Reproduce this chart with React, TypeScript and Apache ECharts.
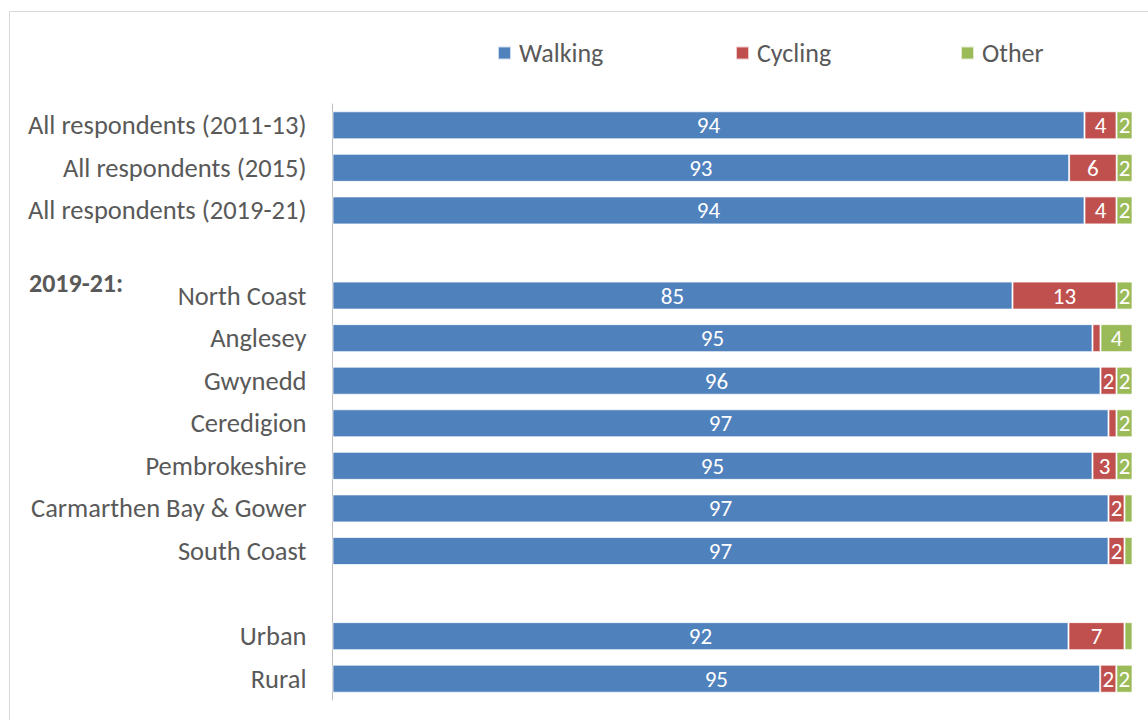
import React, { useEffect, useRef } from "react";
import * as echarts from "echarts";

const categories = [
  "All respondents (2011-13)",
  "All respondents (2015)",
  "All respondents (2019-21)",
  " ",
  "North Coast",
  "Anglesey",
  "Gwynedd",
  "Ceredigion",
  "Pembrokeshire",
  "Carmarthen Bay & Gower",
  "South Coast",
  "  ",
  "Urban",
  "Rural",
];
const seriesNames = ["Walking", "Cycling", "Other"];
const walking = [94, 93, 94, null, 85, 95, 96, 97, 95, 97, 97, null, 92, 95];
const cycling = [4, 6, 4, null, 13, 1, 2, 1, 3, 2, 2, null, 7, 2];
const other = [2, 2, 2, null, 2, 4, 2, 2, 2, 1, 1, null, 1, 2];
const colors = ["#4F81BD", "#C0504D", "#9BBB59"];

const FONT = "Carlito, Lato, sans-serif";
const TEXT = "#595959";

export default function App() {
  const ref = useRef<HTMLDivElement>(null);
  useEffect(() => {
    if (!ref.current) return;
    const chart = echarts.init(ref.current, undefined, { renderer: "svg" });
    const raw = [walking, cycling, other];
    const totals = categories.map((_, i) =>
      raw.reduce((s, arr) => s + (arr[i] == null ? 0 : (arr[i] as number)), 0)
    );
    const series = raw.map((arr, k) => ({
      name: seriesNames[k],
      type: "bar",
      stack: "total",
      barWidth: 28,
      itemStyle: { color: colors[k], borderColor: "rgba(255,255,255,0.7)", borderWidth: 1 },
      label: {
        show: true,
        position: "inside",
        color: "#fff",
        fontSize: 23,
        fontFamily: FONT,
        formatter: (p: any) => (p.data && p.data.raw >= 2 ? String(p.data.raw) : ""),
      },
      data: arr.map((v, i) =>
        v == null ? { value: "-", raw: null } : { value: (v / totals[i]) * 100, raw: v }
      ),
    }));
    const legendLefts = [497, 735, 960];
    chart.setOption({
      animation: false,
      backgroundColor: "#fff",
      textStyle: { fontFamily: FONT },
      legend: seriesNames.map((n, k) => ({
        data: [n],
        left: legendLefts[k],
        top: 39,
        padding: 0,
        icon: "rect",
        itemWidth: 13,
        itemHeight: 13,
        selectedMode: false,
        textStyle: { fontSize: 26, color: TEXT, fontFamily: FONT, lineHeight: 28, padding: [0, 0, 0, 3] },
      })),
      grid: { left: 332.5, right: 15.5, top: 104, bottom: 20, containLabel: false },
      xAxis: { type: "value", min: 0, max: 100, show: false },
      yAxis: {
        type: "category",
        inverse: true,
        data: categories,
        axisLine: { show: true, lineStyle: { color: "#bfbfbf", width: 1 } },
        axisTick: { show: false },
        axisLabel: { color: TEXT, fontSize: 26.5, fontFamily: FONT, margin: 26 },
      },
      graphic: [
        {
          type: "rect",
          shape: { x: 9.5, y: 11.5, width: 1300, height: 900 },
          style: { fill: "none", stroke: "#d9d9d9", lineWidth: 1 },
          silent: true,
        },
        {
          type: "text",
          x: 29,
          y: 283,
          style: {
            text: "2019-21:",
            fill: TEXT,
            font: `bold 26px ${FONT}`,
            textVerticalAlign: "middle",
          },
        },
      ],
      series,
    });
    return () => chart.dispose();
  }, []);
  return (
    <div
      ref={ref}
      style={{ position: "absolute", left: 0, top: 0, width: 1148, height: 720 }}
    />
  );
}
